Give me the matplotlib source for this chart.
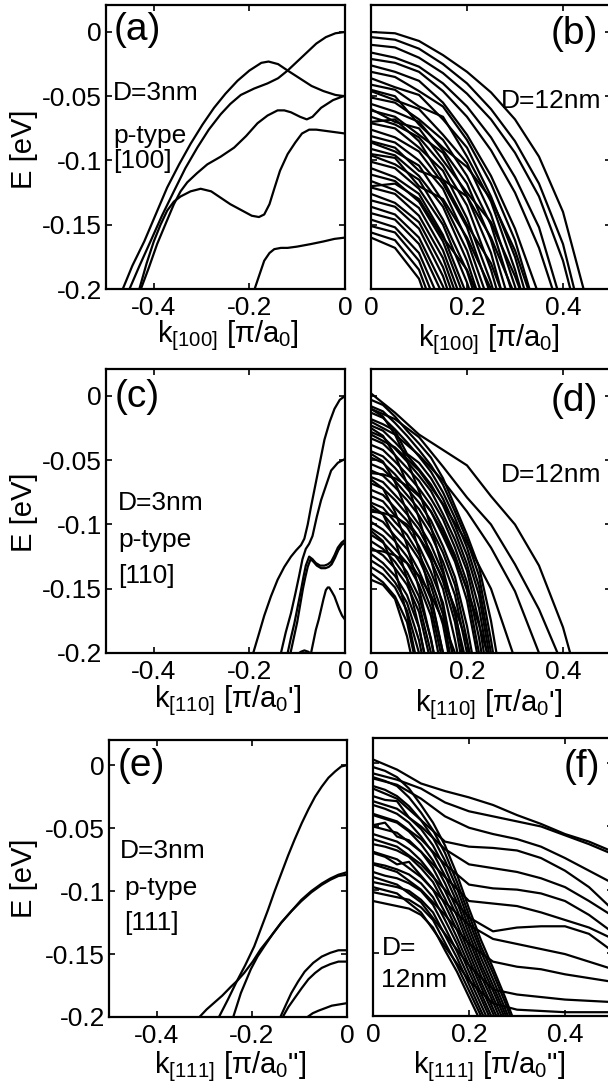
import matplotlib
matplotlib.use('Agg')
import matplotlib.pyplot as plt

plt.rcParams['font.family'] = ['Liberation Sans', 'DejaVu Sans']
plt.rcParams['mathtext.fontset'] = 'custom'
plt.rcParams['mathtext.rm'] = 'Liberation Sans'
plt.rcParams['mathtext.it'] = 'Liberation Sans:italic'
plt.rcParams['axes.unicode_minus'] = False

# ---- data (k in pi/a0 units, E in eV) ----
e_ticks = [-0.2, -0.15, -0.1, -0.05, 0]
e_ticklabels = ['-0.2', '-0.15', '-0.1', '-0.05', '0']
k_left_ticks = [-0.4, -0.2, 0]
k_left_labels = ['-0.4', '-0.2', '0']
k_right_ticks = [0, 0.2, 0.4]
k_right_labels = ['0', '0.2', '0.4']

# (a) D=3nm [100]
bands_a_k = [
    [-0.466, -0.445, -0.420, -0.396, -0.372, -0.347, -0.323, -0.298, -0.274, -0.250, -0.225,
     -0.200, -0.175, -0.160, -0.140, -0.120, -0.095, -0.070, -0.045, -0.020, 0.0],
    [-0.452, -0.430, -0.407, -0.383, -0.358, -0.334, -0.309, -0.285, -0.260, -0.240, -0.218,
     -0.190, -0.162, -0.140, -0.120, -0.100, -0.080, -0.060, -0.040, -0.020, 0.0],
    [-0.428, -0.410, -0.393, -0.375, -0.358, -0.344, -0.330, -0.310, -0.288, -0.260, -0.232,
     -0.207, -0.183, -0.162, -0.141, -0.127, -0.113, -0.094, -0.080, -0.068, -0.050, -0.025, 0.0],
    [-0.431, -0.415, -0.400, -0.386, -0.372, -0.358, -0.344, -0.323, -0.302, -0.280, -0.260,
     -0.240, -0.215, -0.195, -0.180, -0.169, -0.158, -0.148, -0.136, -0.120, -0.104, -0.090,
     -0.075, -0.060, -0.040, -0.020, 0.0],
    [-0.190, -0.180, -0.169, -0.158, -0.148, -0.134, -0.120, -0.100, -0.071, -0.045, -0.022, 0.0],
]
bands_a_E = [
    [-0.201, -0.182, -0.163, -0.142, -0.121, -0.103, -0.087, -0.072, -0.059, -0.048, -0.038,
     -0.030, -0.024, -0.023, -0.025, -0.030, -0.036, -0.042, -0.046, -0.049, -0.050],
    [-0.201, -0.182, -0.163, -0.143, -0.124, -0.106, -0.090, -0.076, -0.064, -0.056, -0.049,
     -0.044, -0.040, -0.036, -0.030, -0.023, -0.016, -0.009, -0.004, -0.001, 0.0],
    [-0.201, -0.183, -0.165, -0.149, -0.134, -0.124, -0.117, -0.110, -0.103, -0.097, -0.090,
     -0.081, -0.071, -0.065, -0.061, -0.061, -0.0625, -0.066, -0.068, -0.066, -0.059, -0.053, -0.0495],
    [-0.201, -0.180, -0.163, -0.150, -0.139, -0.132, -0.128, -0.124, -0.122, -0.124, -0.129,
     -0.134, -0.139, -0.143, -0.144, -0.142, -0.134, -0.122, -0.108, -0.095, -0.086, -0.079,
     -0.076, -0.076, -0.077, -0.078, -0.079],
    [-0.201, -0.190, -0.178, -0.172, -0.169, -0.168, -0.168, -0.167, -0.165, -0.163, -0.161, -0.160],
]

# (c) D=3nm [110]
bands_c_k = [
    [-0.192, -0.180, -0.169, -0.155, -0.141, -0.127, -0.113, -0.102, -0.092, -0.085, -0.078,
     -0.071, -0.064, -0.057, -0.050, -0.043, -0.032, -0.022, -0.011, 0.0],
    [-0.134, -0.124, -0.113, -0.104, -0.096, -0.089, -0.082, -0.075, -0.068, -0.059, -0.050,
     -0.040, -0.029, -0.015, 0.0],
    [-0.120, -0.113, -0.106, -0.099, -0.092, -0.087, -0.082, -0.075, -0.068, -0.061, -0.052,
     -0.043, -0.036, -0.029, -0.022, -0.015, -0.007, 0.0],
    [-0.114, -0.107, -0.100, -0.094, -0.088, -0.083, -0.078, -0.072, -0.066, -0.059, -0.050,
     -0.041, -0.034, -0.028, -0.021, -0.014, -0.007, 0.0],
    [-0.071, -0.066, -0.061, -0.055, -0.050, -0.045, -0.040, -0.036, -0.033, -0.028, -0.022,
     -0.017, -0.012, -0.006, 0.0],
    [-0.100, -0.092, -0.085, -0.077, -0.070],
]
bands_c_E = [
    [-0.200, -0.185, -0.171, -0.156, -0.143, -0.133, -0.125, -0.120, -0.116, -0.111, -0.100,
     -0.086, -0.073, -0.060, -0.047, -0.034, -0.020, -0.010, -0.003, 0.0],
    [-0.200, -0.184, -0.169, -0.154, -0.140, -0.127, -0.119, -0.115, -0.109, -0.094, -0.081,
     -0.070, -0.058, -0.052, -0.049],
    [-0.200, -0.188, -0.177, -0.164, -0.151, -0.141, -0.132, -0.125, -0.127, -0.130, -0.132,
     -0.132, -0.131, -0.129, -0.124, -0.118, -0.114, -0.112],
    [-0.200, -0.188, -0.176, -0.163, -0.150, -0.141, -0.133, -0.127, -0.129, -0.132, -0.134,
     -0.134, -0.133, -0.131, -0.126, -0.120, -0.116, -0.114],
    [-0.200, -0.191, -0.182, -0.174, -0.166, -0.158, -0.151, -0.149, -0.149, -0.152, -0.156,
     -0.161, -0.166, -0.171, -0.174],
    [-0.201, -0.199, -0.198, -0.199, -0.201],
]

# (e) D=3nm [111]
bands_e_k = [
    [-0.269, -0.250, -0.232, -0.214, -0.195, -0.180, -0.166, -0.152, -0.138, -0.124, -0.110,
     -0.095, -0.081, -0.067, -0.053, -0.039, -0.025, -0.012, 0.0],
    [-0.310, -0.295, -0.280, -0.262, -0.244, -0.230, -0.216, -0.198, -0.181, -0.160, -0.138,
     -0.117, -0.096, -0.075, -0.053, -0.035, -0.018, 0.0],
    [-0.239, -0.223, -0.202, -0.188, -0.174, -0.156, -0.138, -0.117, -0.096, -0.075, -0.053,
     -0.035, -0.018, 0.0],
    [-0.140, -0.128, -0.117, -0.103, -0.089, -0.071, -0.053, -0.035, -0.018, 0.0],
    [-0.135, -0.123, -0.110, -0.095, -0.081, -0.067, -0.053, -0.035, -0.018, 0.0],
    [-0.083, -0.072, -0.060, -0.046, -0.032, -0.016, 0.0],
]
bands_e_E = [
    [-0.200, -0.186, -0.172, -0.159, -0.144, -0.129, -0.115, -0.100, -0.086, -0.072, -0.059,
     -0.046, -0.035, -0.025, -0.017, -0.010, -0.005, -0.001, 0.0],
    [-0.200, -0.194, -0.189, -0.183, -0.176, -0.171, -0.165, -0.156, -0.146, -0.136, -0.125,
     -0.116, -0.107, -0.100, -0.094, -0.090, -0.087, -0.085],
    [-0.200, -0.181, -0.162, -0.152, -0.144, -0.134, -0.125, -0.116, -0.108, -0.101, -0.095,
     -0.091, -0.088, -0.087],
    [-0.200, -0.190, -0.181, -0.172, -0.164, -0.157, -0.152, -0.149, -0.147, -0.147],
    [-0.200, -0.192, -0.185, -0.177, -0.170, -0.165, -0.161, -0.158, -0.156, -0.156],
    [-0.200, -0.197, -0.195, -0.193, -0.191, -0.190, -0.189],
]

# (b) D=12nm [100], energies on a common k grid
k_grid_b = [0.0, 0.05, 0.1, 0.15, 0.2, 0.25, 0.3, 0.35, 0.4, 0.45]
bands_b = [
    [0.000, -0.001, -0.007, -0.018, -0.031, -0.047, -0.068, -0.097, -0.140, -0.210],
    [-0.004, -0.006, -0.013, -0.025, -0.040, -0.060, -0.085, -0.118, -0.165, -0.240],
    [-0.010, -0.012, -0.020, -0.032, -0.048, -0.068, -0.094, -0.128, -0.178, -0.250],
    [-0.016, -0.020, -0.027, -0.040, -0.058, -0.082, -0.113, -0.152, -0.215],
    [-0.021, -0.024, -0.031, -0.046, -0.066, -0.092, -0.125, -0.168, -0.225],
    [-0.026, -0.031, -0.038, -0.055, -0.080, -0.112, -0.153, -0.205],
    [-0.031, -0.035, -0.046, -0.058, -0.084, -0.118, -0.162, -0.225],
    [-0.036, -0.043, -0.049, -0.068, -0.090, -0.128, -0.175, -0.240],
    [-0.041, -0.045, -0.058, -0.066, -0.097, -0.132, -0.185, -0.250],
    [-0.046, -0.053, -0.060, -0.080, -0.102, -0.142, -0.198, -0.260],
    [-0.051, -0.055, -0.068, -0.084, -0.112, -0.150, -0.210],
    [-0.056, -0.062, -0.070, -0.092, -0.118, -0.162, -0.225],
    [-0.061, -0.066, -0.080, -0.094, -0.128, -0.172, -0.240],
    [-0.066, -0.072, -0.082, -0.104, -0.135, -0.185, -0.250],
    [-0.071, -0.075, -0.090, -0.108, -0.145, -0.195, -0.260],
    [-0.076, -0.082, -0.093, -0.118, -0.152, -0.205],
    [-0.081, -0.086, -0.100, -0.122, -0.162, -0.215],
    [-0.086, -0.093, -0.104, -0.132, -0.170, -0.225],
    [-0.091, -0.096, -0.112, -0.136, -0.178, -0.235],
    [-0.096, -0.103, -0.115, -0.146, -0.186, -0.245],
    [-0.101, -0.106, -0.122, -0.150, -0.195, -0.250],
    [-0.106, -0.113, -0.126, -0.158, -0.205],
    [-0.111, -0.116, -0.132, -0.163, -0.212],
    [-0.116, -0.123, -0.137, -0.170, -0.220],
    [-0.121, -0.126, -0.143, -0.176, -0.228],
    [-0.126, -0.133, -0.148, -0.183, -0.235],
    [-0.131, -0.136, -0.153, -0.190, -0.245],
    [-0.136, -0.142, -0.160, -0.198, -0.250],
    [-0.141, -0.146, -0.165, -0.205],
    [-0.146, -0.152, -0.172, -0.215],
    [-0.151, -0.156, -0.178, -0.225],
    [-0.156, -0.162, -0.185, -0.235],
    [-0.160, -0.168, -0.192, -0.245],
    [-0.045, -0.050, -0.072, -0.090, -0.105, -0.130, -0.170, -0.225],
    [-0.070, -0.068, -0.085, -0.115, -0.128, -0.160, -0.205],
    [-0.095, -0.098, -0.120, -0.130, -0.160, -0.200],
    [-0.120, -0.118, -0.130, -0.160, -0.185, -0.230],
    [-0.060, -0.070, -0.075, -0.100, -0.125, -0.148, -0.190, -0.240],
    [-0.085, -0.090, -0.108, -0.115, -0.150, -0.180, -0.230],
]

# (d) D=12nm [110]: dense bundle on a fine grid, plus the few long bands
k_grid_d = [0.0, 0.025, 0.05, 0.075, 0.1, 0.125, 0.15, 0.175, 0.2, 0.225, 0.25, 0.275]
bands_d = [
    [-0.003, -0.007, -0.016, -0.027, -0.037, -0.048, -0.064, -0.086, -0.108, -0.133, -0.175, -0.230],
    [-0.008, -0.012, -0.021, -0.031, -0.042, -0.054, -0.069, -0.090, -0.112, -0.140, -0.190, -0.248],
    [-0.013, -0.017, -0.026, -0.036, -0.047, -0.059, -0.075, -0.095, -0.118, -0.148, -0.200, -0.250],
    [-0.018, -0.022, -0.027, -0.045, -0.052, -0.064, -0.080, -0.101, -0.124, -0.155, -0.209],
    [-0.023, -0.027, -0.036, -0.046, -0.057, -0.069, -0.085, -0.106, -0.131, -0.165, -0.218],
    [-0.028, -0.032, -0.041, -0.051, -0.062, -0.074, -0.092, -0.112, -0.136, -0.176, -0.234],
    [-0.033, -0.037, -0.046, -0.056, -0.066, -0.080, -0.096, -0.118, -0.145, -0.188, -0.245],
    [-0.038, -0.042, -0.051, -0.061, -0.072, -0.085, -0.103, -0.124, -0.151, -0.200, -0.250],
    [-0.043, -0.047, -0.056, -0.067, -0.077, -0.090, -0.109, -0.129, -0.159, -0.208],
    [-0.048, -0.052, -0.061, -0.072, -0.083, -0.097, -0.117, -0.141, -0.179, -0.230],
    [-0.053, -0.057, -0.066, -0.077, -0.088, -0.103, -0.122, -0.147, -0.190, -0.240],
    [-0.058, -0.062, -0.071, -0.081, -0.093, -0.108, -0.129, -0.155, -0.200, -0.250],
    [-0.063, -0.067, -0.077, -0.087, -0.100, -0.116, -0.138, -0.167, -0.221],
    [-0.068, -0.072, -0.081, -0.092, -0.104, -0.122, -0.144, -0.176, -0.229],
    [-0.073, -0.077, -0.087, -0.097, -0.110, -0.128, -0.150, -0.190, -0.238],
    [-0.078, -0.082, -0.093, -0.102, -0.117, -0.137, -0.161, -0.210],
    [-0.083, -0.087, -0.098, -0.108, -0.123, -0.143, -0.170, -0.223],
    [-0.088, -0.092, -0.103, -0.113, -0.127, -0.148, -0.178, -0.228],
    [-0.093, -0.098, -0.109, -0.119, -0.136, -0.158, -0.200, -0.243],
    [-0.098, -0.104, -0.113, -0.125, -0.141, -0.165, -0.208],
    [-0.103, -0.109, -0.119, -0.130, -0.147, -0.171, -0.219],
    [-0.108, -0.114, -0.124, -0.137, -0.156, -0.189, -0.237],
    [-0.113, -0.119, -0.129, -0.142, -0.162, -0.200, -0.240],
    [-0.118, -0.124, -0.134, -0.147, -0.168, -0.208],
    [-0.123, -0.130, -0.140, -0.155, -0.180, -0.227],
    [-0.128, -0.134, -0.145, -0.161, -0.190, -0.236],
    [-0.133, -0.139, -0.149, -0.167, -0.200, -0.240],
    [-0.138, -0.145, -0.156, -0.176, -0.219],
    [-0.143, -0.147, -0.158, -0.187, -0.230],
    # bands that cut across the bundle
    [-0.010, -0.016, -0.030, -0.050, -0.074, -0.102, -0.135, -0.170, -0.210],
    [-0.025, -0.031, -0.046, -0.068, -0.095, -0.127, -0.165, -0.210],
    [-0.045, -0.051, -0.067, -0.090, -0.120, -0.156, -0.200],
    [-0.065, -0.072, -0.090, -0.116, -0.150, -0.190, -0.235],
    [-0.085, -0.092, -0.112, -0.142, -0.180, -0.225],
    [-0.105, -0.113, -0.135, -0.170, -0.215],
    [-0.060, -0.061, -0.064, -0.070, -0.078, -0.090, -0.106, -0.126, -0.150, -0.178, -0.210],
    [-0.090, -0.091, -0.094, -0.100, -0.110, -0.124, -0.142, -0.165, -0.192, -0.225],
    [-0.120, -0.121, -0.124, -0.130, -0.140, -0.155, -0.175, -0.200, -0.230],
]
k_grid_d_long = [0.0, 0.05, 0.1, 0.15, 0.2, 0.25, 0.3, 0.35, 0.4, 0.45]
bands_d_long = [
    [0.002, -0.013, -0.030, -0.042, -0.054, -0.078, -0.100, -0.132, -0.180, -0.247],
    [-0.010, -0.018, -0.032, -0.055, -0.079, -0.100, -0.131, -0.166, -0.210],
    [-0.020, -0.030, -0.046, -0.066, -0.090, -0.118, -0.152, -0.200, -0.250],
    [-0.030, -0.040, -0.058, -0.084, -0.114, -0.150, -0.205],
]

# (f) D=12nm [111]: steep bundle and flatter bands
k_grid_f = [0.0, 0.025, 0.05, 0.075, 0.1, 0.125, 0.15, 0.175, 0.2, 0.225, 0.25, 0.275, 0.3]
bands_f_steep = [
    [-0.003, -0.006, -0.011, -0.020, -0.033, -0.047, -0.065, -0.088, -0.115, -0.140, -0.162, -0.185, -0.210],
    [-0.011, -0.014, -0.018, -0.027, -0.039, -0.053, -0.071, -0.094, -0.120, -0.145, -0.166, -0.189, -0.214],
    [-0.018, -0.021, -0.026, -0.034, -0.045, -0.059, -0.077, -0.099, -0.125, -0.149, -0.171, -0.194, -0.218],
    [-0.026, -0.029, -0.030, -0.043, -0.052, -0.065, -0.083, -0.105, -0.130, -0.154, -0.176, -0.198, -0.222],
    [-0.033, -0.036, -0.040, -0.047, -0.058, -0.071, -0.089, -0.110, -0.135, -0.159, -0.180, -0.202, -0.226],
    [-0.041, -0.044, -0.047, -0.054, -0.064, -0.077, -0.095, -0.116, -0.140, -0.163, -0.185, -0.206],
    [-0.049, -0.047, -0.058, -0.061, -0.070, -0.083, -0.101, -0.121, -0.145, -0.168, -0.189, -0.211],
    [-0.056, -0.059, -0.062, -0.068, -0.077, -0.089, -0.107, -0.127, -0.150, -0.173, -0.194, -0.215],
    [-0.064, -0.066, -0.069, -0.074, -0.083, -0.094, -0.112, -0.132, -0.155, -0.177, -0.198, -0.219],
    [-0.071, -0.074, -0.080, -0.078, -0.089, -0.100, -0.118, -0.138, -0.160, -0.182, -0.203],
    [-0.079, -0.081, -0.084, -0.088, -0.095, -0.106, -0.124, -0.143, -0.165, -0.186, -0.207],
    [-0.086, -0.089, -0.091, -0.095, -0.101, -0.112, -0.130, -0.149, -0.170, -0.191, -0.212],
    [-0.094, -0.096, -0.098, -0.101, -0.108, -0.118, -0.136, -0.154, -0.175, -0.196, -0.216],
    [-0.102, -0.104, -0.106, -0.108, -0.114, -0.124, -0.142, -0.160, -0.180, -0.200, -0.221],
    [-0.109, -0.111, -0.113, -0.115, -0.120, -0.130, -0.148, -0.165, -0.185, -0.205],
]
k_grid_f_flat = [0.0, 0.05, 0.1, 0.15, 0.2, 0.25, 0.3, 0.35, 0.4, 0.45, 0.5]
bands_f_flat = [
    [0.003, -0.005, -0.016, -0.022, -0.027, -0.033, -0.041, -0.048, -0.056, -0.062, -0.070],
    [-0.008, -0.013, -0.020, -0.031, -0.038, -0.042, -0.046, -0.050, -0.057, -0.064, -0.072],
    [-0.012, -0.017, -0.028, -0.042, -0.051, -0.056, -0.060, -0.066, -0.075, -0.085, -0.095],
    [-0.020, -0.028, -0.045, -0.062, -0.066, -0.067, -0.069, -0.075, -0.085, -0.098, -0.116],
    [-0.030, -0.036, -0.050, -0.068, -0.080, -0.083, -0.086, -0.091, -0.098, -0.109, -0.121],
    [-0.040, -0.046, -0.060, -0.080, -0.096, -0.099, -0.100, -0.103, -0.109, -0.120, -0.134],
    [-0.050, -0.055, -0.070, -0.090, -0.109, -0.111, -0.113, -0.118, -0.124, -0.130, -0.139],
    [-0.060, -0.066, -0.080, -0.100, -0.122, -0.133, -0.130, -0.129, -0.129, -0.135, -0.149],
    [-0.070, -0.076, -0.090, -0.110, -0.128, -0.139, -0.143, -0.147, -0.151, -0.157, -0.163],
    [-0.080, -0.086, -0.100, -0.120, -0.143, -0.157, -0.161, -0.163, -0.167, -0.170, -0.173],
    [-0.090, -0.096, -0.110, -0.135, -0.160, -0.179, -0.183, -0.185, -0.187, -0.188, -0.189],
    [-0.098, -0.103, -0.118, -0.145, -0.172, -0.190, -0.195, -0.196, -0.197, -0.197, -0.197],
]

# ---- figure ----
W, H = 608, 1090
FS = 19
FS_LABEL = 21
fig = plt.figure(figsize=(W / 100, H / 100), dpi=100)


def add_panel(l, t, r, b):
    # pixel box -> figure fraction
    return fig.add_axes([l / W, 1 - b / H, (r - l) / W, (b - t) / H])


def style(ax, left_side, ytop):
    ax.set_ylim(-0.2, ytop)
    ax.set_yticks(e_ticks)
    if left_side:
        ax.set_xlim(-0.5, 0)
        ax.set_xticks(k_left_ticks)
        ax.set_xticklabels(k_left_labels)
        ax.set_yticklabels(e_ticklabels)
    else:
        ax.set_xlim(0, 0.5)
        ax.set_xticks(k_right_ticks)
        ax.set_xticklabels(k_right_labels)
        ax.set_yticklabels([])
    ax.tick_params(direction='in', top=True, right=True, length=4, width=1.2,
                   labelsize=FS, pad=3)
    ax.tick_params(axis='x', pad=5)
    for s in ax.spines.values():
        s.set_linewidth(1.6)


def draw_pairs(ax, ks, es, lw=1.6):
    for k, e in zip(ks, es):
        ax.plot(k, e, color='k', lw=lw, solid_joinstyle='round')


def draw_grid(ax, grid, bands, lw=1.6):
    for e in bands:
        ax.plot(grid[:len(e)], e, color='k', lw=lw, solid_joinstyle='round')


def txt(ax, x, y, s, size=FS, **kw):
    ax.text(x, y, s, transform=ax.transAxes, fontsize=size, **kw)


ax_a = add_panel(106, 5, 345, 289)
ax_b = add_panel(371, 5, 611, 289)
ax_c = add_panel(106, 369, 345, 653)
ax_d = add_panel(371, 369, 611, 653)
ax_e = add_panel(109, 740, 347, 1017)
ax_f = add_panel(373, 738, 613, 1016)

draw_pairs(ax_a, bands_a_k, bands_a_E)
draw_pairs(ax_c, bands_c_k, bands_c_E)
draw_pairs(ax_e, bands_e_k, bands_e_E)
draw_grid(ax_b, k_grid_b, bands_b)
draw_grid(ax_d, k_grid_d, bands_d)
draw_grid(ax_d, k_grid_d_long, bands_d_long)
draw_grid(ax_f, k_grid_f, bands_f_steep)
draw_grid(ax_f, k_grid_f_flat, bands_f_flat)

style(ax_a, True, 0.021)
style(ax_b, False, 0.021)
style(ax_c, True, 0.021)
style(ax_d, False, 0.021)
style(ax_e, True, 0.02)
style(ax_f, False, 0.02)

# panel tags
txt(ax_a, 0.03, 0.975, '(a)', size=28, va='top', ha='left')
txt(ax_b, 0.945, 0.96, '(b)', size=28, va='top', ha='right')
txt(ax_c, 0.035, 0.965, '(c)', size=28, va='top', ha='left')
txt(ax_d, 0.945, 0.95, '(d)', size=28, va='top', ha='right')
txt(ax_e, 0.035, 0.97, '(e)', size=28, va='top', ha='left')
txt(ax_f, 0.945, 0.96, '(f)', size=28, va='top', ha='right')

# annotations
txt(ax_a, 0.03, 0.665, 'D=3nm', va='baseline')
txt(ax_a, 0.03, 0.514, 'p-type', va='baseline')
txt(ax_a, 0.03, 0.426, '[100]', va='baseline')
txt(ax_c, 0.05, 0.504, 'D=3nm', va='baseline')
txt(ax_c, 0.05, 0.373, 'p-type', va='baseline')
txt(ax_c, 0.05, 0.246, '[110]', va='baseline')
txt(ax_e, 0.045, 0.574, 'D=3nm', va='baseline')
txt(ax_e, 0.065, 0.44, 'p-type', va='baseline')
txt(ax_e, 0.065, 0.314, '[111]', va='baseline')
txt(ax_b, 0.96, 0.637, 'D=12nm', va='baseline', ha='right')
txt(ax_d, 0.96, 0.602, 'D=12nm', va='baseline', ha='right')
txt(ax_f, 0.035, 0.219, 'D=', va='baseline')
txt(ax_f, 0.035, 0.104, '12nm', va='baseline')

# axis labels
for yc in [149, 512, 878]:
    fig.text(24 / W, 1 - yc / H, 'E [eV]', rotation=90, ha='center', va='center', fontsize=FS_LABEL)

xlabels = [
    (228, 318, r'k$_{\mathregular{[100]}}$ [π/a$_{\mathregular{0}}$]'),
    (489, 322, r'k$_{\mathregular{[100]}}$ [π/a$_{\mathregular{0}}$]'),
    (228, 683, r"k$_{\mathregular{[110]}}$ [π/a$_{\mathregular{0}}$']"),
    (489, 687, r"k$_{\mathregular{[110]}}$ [π/a$_{\mathregular{0}}$']"),
    (230, 1049, r'k$_{\mathregular{[111]}}$ [π/a$_{\mathregular{0}}$"]'),
    (489, 1049, r'k$_{\mathregular{[111]}}$ [π/a$_{\mathregular{0}}$"]'),
]
for xc, yt, s in xlabels:
    fig.text(xc / W, 1 - yt / H, s, ha='center', va='top', fontsize=FS_LABEL)

fig.savefig('out.png', dpi=100)
